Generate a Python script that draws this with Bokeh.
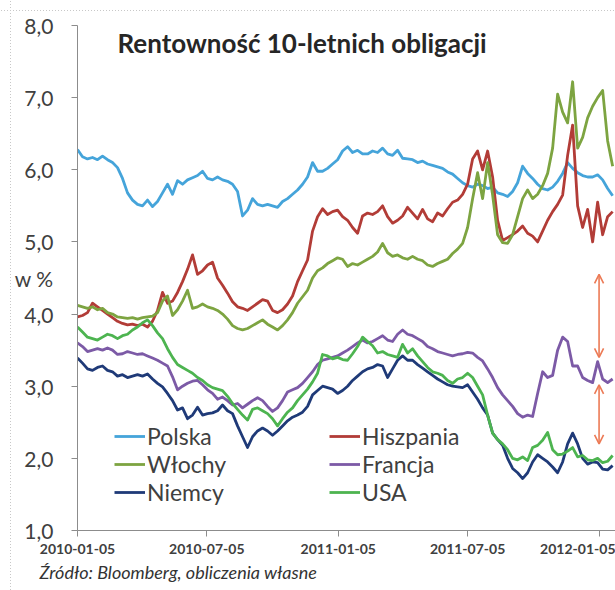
import pandas as pd
from bokeh.plotting import figure
from bokeh.models import (FixedTicker, DatetimeTickFormatter, Legend, LegendItem,
                          Label, Arrow, OpenHead, Title, Range1d)
from bokeh.embed import file_html
from bokeh.resources import INLINE

# ---------------- data (weekly readings, % yield) ----------------
start_date = "2010-01-05"
n_points = 108

polska = [6.28, 6.18, 6.15, 6.17, 6.14, 6.19, 6.14, 6.10, 6.03, 5.88,
          5.68, 5.58, 5.52, 5.50, 5.58, 5.49, 5.56, 5.68, 5.80, 5.66,
          5.85, 5.80, 5.86, 5.89, 5.92, 5.98, 5.88, 5.86, 5.90, 5.86,
          5.84, 5.80, 5.70, 5.36, 5.44, 5.60, 5.52, 5.50, 5.52, 5.50,
          5.48, 5.56, 5.60, 5.66, 5.72, 5.80, 5.90, 6.10, 5.98, 5.98,
          6.02, 6.08, 6.14, 6.26, 6.32, 6.24, 6.27, 6.22, 6.22, 6.26,
          6.24, 6.30, 6.22, 6.20, 6.27, 6.16, 6.15, 6.14, 6.10, 6.12,
          6.08, 6.06, 6.04, 6.02, 5.97, 5.94, 5.88, 5.82, 5.78, 5.76,
          5.80, 5.78, 5.74, 5.76, 5.68, 5.66, 5.63, 5.70, 5.82, 6.05,
          5.95, 5.88, 5.80, 5.74, 5.72, 5.76, 5.84, 5.95, 6.10, 6.02,
          5.96, 5.92, 5.90, 5.90, 5.93, 5.86, 5.74, 5.64]

hiszpania = [3.96, 3.98, 4.02, 4.15, 4.10, 4.05, 4.00, 3.95, 3.90, 3.87,
             3.85, 3.86, 3.84, 3.86, 3.82, 3.90, 4.05, 4.30, 4.15, 4.18,
             4.30, 4.45, 4.62, 4.82, 4.55, 4.60, 4.68, 4.72, 4.50, 4.40,
             4.29, 4.17, 4.10, 4.08, 4.05, 4.10, 4.15, 4.20, 4.18, 4.05,
             4.02, 4.06, 4.14, 4.25, 4.45, 4.60, 4.75, 5.15, 5.35, 5.46,
             5.38, 5.42, 5.44, 5.35, 5.30, 5.20, 5.12, 5.36, 5.40, 5.38,
             5.42, 5.50, 5.35, 5.26, 5.30, 5.36, 5.48, 5.40, 5.32, 5.45,
             5.32, 5.28, 5.40, 5.36, 5.46, 5.55, 5.58, 5.66, 5.80, 6.15,
             6.26, 6.00, 6.26, 5.90, 5.30, 5.02, 5.06, 5.10, 5.15, 5.22,
             5.12, 5.08, 5.00, 5.15, 5.30, 5.42, 5.52, 5.65, 6.20, 6.62,
             5.50, 5.20, 5.45, 5.00, 5.55, 5.10, 5.35, 5.42]

wlochy = [4.12, 4.10, 4.08, 4.10, 4.06, 4.08, 4.02, 4.00, 3.96, 3.95,
          3.94, 3.95, 3.93, 3.95, 3.96, 3.97, 4.02, 4.18, 4.25, 3.98,
          4.06, 4.18, 4.33, 4.08, 4.10, 4.14, 4.10, 4.08, 4.05, 4.00,
          3.93, 3.84, 3.80, 3.78, 3.80, 3.84, 3.88, 3.92, 3.86, 3.82,
          3.78, 3.84, 3.92, 4.02, 4.15, 4.24, 4.33, 4.50, 4.60, 4.64,
          4.70, 4.74, 4.78, 4.76, 4.66, 4.70, 4.68, 4.72, 4.76, 4.80,
          4.86, 4.98, 4.85, 4.80, 4.82, 4.78, 4.76, 4.80, 4.76, 4.74,
          4.68, 4.66, 4.70, 4.73, 4.76, 4.84, 4.90, 4.98, 5.20, 5.60,
          5.96, 5.60, 6.10, 5.65, 5.10, 4.99, 4.98, 5.10, 5.35, 5.60,
          5.72, 5.60, 5.66, 5.78, 5.95, 6.30, 7.05, 6.80, 6.65, 7.22,
          6.30, 6.45, 6.72, 6.88, 7.00, 7.10, 6.40, 6.05]

francja = [3.60, 3.55, 3.48, 3.50, 3.52, 3.50, 3.53, 3.50, 3.44, 3.45,
           3.48, 3.46, 3.44, 3.45, 3.42, 3.39, 3.36, 3.32, 3.28, 3.13,
           2.95, 3.00, 3.04, 3.07, 3.08, 3.02, 2.95, 2.90, 2.82, 2.85,
           2.80, 2.74, 2.76, 2.70, 2.75, 2.80, 2.84, 2.80, 2.72, 2.65,
           2.70, 2.80, 2.92, 2.95, 2.98, 3.04, 3.12, 3.20, 3.30, 3.36,
           3.38, 3.40, 3.42, 3.46, 3.50, 3.55, 3.60, 3.64, 3.60, 3.62,
           3.66, 3.70, 3.64, 3.62, 3.72, 3.78, 3.72, 3.70, 3.66, 3.62,
           3.55, 3.52, 3.48, 3.46, 3.44, 3.42, 3.44, 3.45, 3.47, 3.46,
           3.40, 3.35, 3.24, 3.12, 2.98, 2.88, 2.80, 2.72, 2.62, 2.57,
           2.60, 2.58, 2.90, 3.20, 3.12, 3.15, 3.50, 3.68, 3.62, 3.28,
           3.28, 3.12, 3.08, 3.05, 3.34, 3.10, 3.05, 3.10]

niemcy = [3.39, 3.32, 3.24, 3.22, 3.26, 3.28, 3.22, 3.20, 3.14, 3.16,
          3.12, 3.14, 3.16, 3.14, 3.17, 3.10, 3.04, 2.99, 2.90, 2.80,
          2.67, 2.70, 2.55, 2.60, 2.71, 2.60, 2.62, 2.63, 2.66, 2.74,
          2.66, 2.62, 2.45, 2.30, 2.15, 2.30, 2.38, 2.42, 2.38, 2.32,
          2.38, 2.45, 2.52, 2.57, 2.60, 2.64, 2.72, 2.88, 2.94, 3.00,
          2.98, 2.96, 2.90, 2.94, 3.00, 3.08, 3.14, 3.20, 3.24, 3.26,
          3.30, 3.28, 3.12, 3.24, 3.36, 3.42, 3.36, 3.36, 3.30, 3.25,
          3.20, 3.15, 3.10, 3.06, 3.02, 3.00, 2.99, 2.98, 3.02, 2.92,
          2.82, 2.70, 2.60, 2.35, 2.26, 2.18, 2.00, 1.86, 1.80, 1.72,
          1.80, 1.95, 2.05, 2.00, 1.95, 1.88, 1.80, 1.95, 2.20, 2.35,
          2.20, 2.00, 1.92, 1.95, 1.94, 1.85, 1.84, 1.90]

usa = [3.82, 3.75, 3.68, 3.66, 3.64, 3.68, 3.72, 3.70, 3.66, 3.70,
       3.72, 3.78, 3.82, 3.88, 3.92, 3.84, 3.74, 3.66, 3.52, 3.40,
       3.30, 3.26, 3.22, 3.18, 3.12, 3.08, 3.02, 2.98, 2.96, 2.94,
       2.86, 2.76, 2.68, 2.60, 2.53, 2.68, 2.70, 2.66, 2.62, 2.55,
       2.45, 2.55, 2.64, 2.70, 2.80, 2.88, 2.96, 3.06, 3.18, 3.44,
       3.42, 3.38, 3.40, 3.37, 3.36, 3.45, 3.55, 3.68, 3.62, 3.56,
       3.46, 3.48, 3.44, 3.42, 3.40, 3.58, 3.46, 3.52, 3.42, 3.34,
       3.26, 3.20, 3.18, 3.15, 3.08, 3.04, 3.10, 3.12, 3.18, 3.12,
       3.00, 2.88, 2.60, 2.35, 2.26, 2.20, 2.12, 2.00, 1.98, 2.02,
       1.97, 2.15, 2.18, 2.25, 2.36, 2.12, 2.05, 2.06, 2.10, 2.15,
       2.02, 2.04, 1.98, 1.97, 2.00, 1.94, 1.96, 2.04]

series_names = ["Polska", "Hiszpania", "Włochy", "Francja", "Niemcy", "USA"]
series_values = [polska, hiszpania, wlochy, francja, niemcy, usa]
series_colors = ["#45A4DA", "#B23C37", "#7DA441", "#7C5AA6", "#1F3A78", "#4DB450"]

x_tick_dates = ["2010-01-05", "2010-07-05", "2011-01-05", "2011-07-05", "2012-01-05"]
y_tick_values = [1, 2, 3, 4, 5, 6, 7, 8]
y_tick_labels = ["1,0", "2,0", "3,0", "4,0", "5,0", "6,0", "7,0", "8,0"]

title_text = "Rentowność 10-letnich obligacji"
unit_text = "w %"
unit_pos = 4.5
source_text = "Źródło: Bloomberg, obliczenia własne"

# spread arrows (date, from, to)
arrow_date = "2012-01-05"
arrow_spans = [(4.55, 3.40), (3.02, 2.20)]

for v in series_values:
    assert len(v) == n_points

dates = pd.date_range(start_date, periods=n_points, freq="7D")

FONT = "Lato"
TXT = "#404040"
AX = "#8c8c8c"

p = figure(width=615, height=590, x_axis_type="datetime",
           output_backend="svg", toolbar_location=None,
           x_range=Range1d(pd.Timestamp("2010-01-05"), pd.Timestamp("2012-01-28")),
           y_range=Range1d(1, 8),
           min_border_left=77, min_border_right=0, min_border_top=25,
           min_border_bottom=60)
p.styles = {
    "background-color": "white",
    "background-image": ("linear-gradient(to bottom, #c8c8c8 50%, rgba(255,255,255,0) 50%),"
                         "linear-gradient(to right, #c8c8c8 50%, rgba(255,255,255,0) 50%)"),
    "background-size": "1px 3px, 3px 1px",
    "background-repeat": "repeat-y, repeat-x",
    "background-position": "10px 10px, 10px 10px",
}
p.border_fill_alpha = 0
p.outline_line_color = None
p.xgrid.grid_line_color = None
p.ygrid.grid_line_color = None
p.background_fill_color = "white"

renderers = []
for name, vals, col in zip(series_names, series_values, series_colors):
    r = p.line(dates, vals, line_color=col, line_width=2.8, line_join="round")
    renderers.append((name, r))

# y axis: labelled ticks + unit label as an extra (unmarked) label
p.yaxis.ticker = FixedTicker(ticks=y_tick_values + [unit_pos], minor_ticks=y_tick_values)
overrides = {v: l for v, l in zip(y_tick_values, y_tick_labels)}
overrides[unit_pos] = unit_text
p.yaxis.major_label_overrides = overrides
p.yaxis.major_label_text_font = FONT
p.yaxis.major_label_text_font_size = "21px"
p.yaxis.major_label_text_color = TXT
p.yaxis.major_tick_line_color = None
p.yaxis.minor_tick_out = 6
p.yaxis.minor_tick_in = 0
p.yaxis.minor_tick_line_color = AX
p.yaxis.axis_line_color = AX
p.yaxis.major_label_standoff = 18

p.xaxis.ticker = FixedTicker(ticks=[pd.Timestamp(d).value / 1e6 for d in x_tick_dates])
fmt = "%Y-%m-%d"
p.xaxis.formatter = DatetimeTickFormatter(days=fmt, months=fmt, years=fmt, hours=fmt)
p.xaxis.major_label_text_font = FONT
p.xaxis.major_label_text_font_style = "bold"
p.xaxis.major_label_text_font_size = "14px"
p.xaxis.major_label_text_color = TXT
p.xaxis.major_tick_out = 6
p.xaxis.major_tick_in = 0
p.xaxis.minor_tick_line_color = None
p.xaxis.axis_line_color = AX
p.xaxis.major_tick_line_color = AX
p.xaxis.major_label_standoff = 7

# title inside plot
p.add_layout(Label(x=pd.Timestamp("2010-03-02"), y=7.76, text=title_text,
                   text_font=FONT, text_font_style="bold", text_font_size="26px",
                   text_color="#262626", text_baseline="middle", text_align="left"))

# arrows
for y0, y1 in arrow_spans:
    p.add_layout(Arrow(x_start=pd.Timestamp(arrow_date), y_start=y0,
                       x_end=pd.Timestamp(arrow_date), y_end=y1,
                       line_color="#EC7A55", line_width=1.6,
                       start=OpenHead(size=9, line_color="#EC7A55", line_width=1.6),
                       end=OpenHead(size=9, line_color="#EC7A55", line_width=1.6)))

# legends (two columns)
def make_legend(items, loc):
    return Legend(items=[LegendItem(label=n, renderers=[r]) for n, r in items],
                  location=loc, orientation="vertical",
                  label_text_font=FONT, label_text_font_size="23px",
                  label_text_color=TXT, glyph_width=31, glyph_height=28,
                  label_height=28, label_standoff=2, spacing=0, padding=0,
                  margin=0, border_line_color=None, background_fill_alpha=0)

col1 = [renderers[0], renderers[2], renderers[4]]
col2 = [renderers[1], renderers[3], renderers[5]]
p.add_layout(make_legend(col1, (37, 24)))
p.add_layout(make_legend(col2, (252, 24)))

# source note
p.add_layout(Title(text=source_text, align="left", text_font=FONT,
                   text_font_style="italic", text_font_size="18px",
                   text_color="#333333", offset=-38, standoff=4), "below")

open("out.html", "w").write(file_html(p, INLINE))
